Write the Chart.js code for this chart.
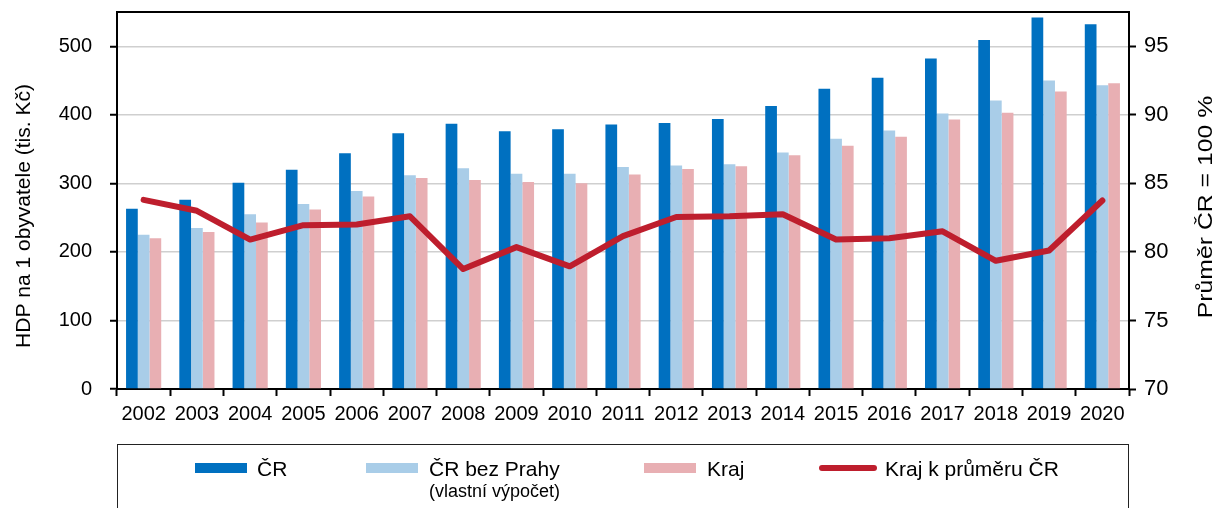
<!DOCTYPE html>
<html><head><meta charset="utf-8">
<script src="https://cdn.jsdelivr.net/npm/chart.js@4"></script>
<style>
html,body{margin:0;padding:0;background:#fff;}
#wrap{position:relative;width:1216px;height:508px;overflow:hidden;font-family:'Liberation Sans',Arial,sans-serif;color:#000;}
#c{position:absolute;left:0;top:0;}
.lg{position:absolute;left:117px;top:444px;width:1012px;height:90px;border:1.5px solid #222;box-sizing:border-box;}
.sw{position:absolute;}
.tx{position:absolute;font-size:21px;line-height:21px;white-space:nowrap;}
.sub{position:absolute;font-size:18px;line-height:18px;white-space:nowrap;}
</style></head>
<body>
<div id="wrap">
<canvas id="c" width="1216" height="508"></canvas>
<div class="lg"></div>
<div class="sw" style="left:195px;top:463px;width:52px;height:10px;background:#0070C0"></div>
<div class="tx" style="left:257px;top:458px">ČR</div>
<div class="sw" style="left:366px;top:463px;width:52px;height:10px;background:#A9CDE8"></div>
<div class="tx" style="left:429px;top:458px">ČR bez Prahy</div>
<div class="sub" style="left:429px;top:482px">(vlastní výpočet)</div>
<div class="sw" style="left:644px;top:463px;width:52px;height:10px;background:#E8AFB3"></div>
<div class="tx" style="left:707px;top:458px">Kraj</div>
<div class="sw" style="left:819px;top:465px;width:58px;height:6px;border-radius:3px;background:#BE1E2D"></div>
<div class="tx" style="left:885px;top:458px">Kraj k průměru ČR</div>
</div>
<script>
const years = ['2002','2003','2004','2005','2006','2007','2008','2009','2010','2011','2012','2013','2014','2015','2016','2017','2018','2019','2020'];
const cr = [263,276,301,320,344,373,387,376,379,386,388,394,413,438,454,482,509,542,532];
const crBezPrahy = [225,235,255,270,289,312,322,314,314,324,326,328,345,365,377,402,421,450,443];
const kraj = [220,229,243,262,281,308,305,302,300,313,321,325,341,355,368,393,403,434,446];
const krajKPrumeru = [83.8,83.0,80.9,81.95,82.0,82.6,78.75,80.35,78.95,81.15,82.55,82.6,82.75,80.9,81.0,81.5,79.35,80.1,83.75];
const leftTicks = [0,100,200,300,400,500];
const rightTicks = [70,75,80,85,90,95];
const leftTitle = 'HDP na 1 obyvatele (tis. Kč)';
const rightTitle = 'Průměr ČR = 100 %';

const FAM = "'Liberation Sans', Arial, sans-serif";

const framePlugin = {
  id: 'frame',
  afterDraw(chart) {
    const {ctx, chartArea: a} = chart;
    ctx.save();
    ctx.strokeStyle = '#000';
    ctx.lineWidth = 2;
    ctx.beginPath();
    ctx.moveTo(a.left - 1, a.top);
    ctx.lineTo(a.right + 1, a.top);
    ctx.stroke();
    ctx.fillStyle = '#000';
    ctx.font = '21px ' + FAM;
    ctx.textAlign = 'center';
    ctx.textBaseline = 'middle';
    ctx.save();
    ctx.translate(24, 216);
    ctx.rotate(-Math.PI / 2);
    ctx.fillText(leftTitle, 0, 0);
    ctx.restore();
    ctx.save();
    ctx.translate(1206, 207);
    ctx.rotate(-Math.PI / 2);
    ctx.scale(1.18, 1);
    ctx.fillText(rightTitle, 0, 0);
    ctx.restore();
    ctx.restore();
  }
};

function noPad(s) { s.paddingTop = 0; s.paddingBottom = 0; s.paddingLeft = 0; s.paddingRight = 0; }

new Chart(document.getElementById('c'), {
  data: {
    labels: years,
    datasets: [
      {type:'bar', label:'ČR', data: cr, backgroundColor:'#0070C0', yAxisID:'y', order:2, categoryPercentage:0.66, barPercentage:1},
      {type:'bar', label:'ČR bez Prahy (vlastní výpočet)', data: crBezPrahy, backgroundColor:'#A9CDE8', yAxisID:'y', order:2, categoryPercentage:0.66, barPercentage:1},
      {type:'bar', label:'Kraj', data: kraj, backgroundColor:'#E8AFB3', yAxisID:'y', order:2, categoryPercentage:0.66, barPercentage:1},
      {type:'line', label:'Kraj k průměru ČR', data: krajKPrumeru, yAxisID:'y1', order:1, borderColor:'#BE1E2D', borderWidth:6, pointRadius:0, tension:0, borderCapStyle:'round', borderJoinStyle:'round', fill:false}
    ]
  },
  options: {
    responsive: false,
    devicePixelRatio: 1,
    animation: false,
    layout: {padding: {top: 12, left: 0, right: 0, bottom: 0}},
    plugins: {legend: {display: false}, tooltip: {enabled: false}},
    scales: {
      x: {
        offset: true,
        grid: {display: true, offset: true, drawOnChartArea: false, drawTicks: true, tickLength: 7, tickColor: '#000', tickWidth: 2},
        border: {display: true, color: '#000', width: 2},
        ticks: {font: {size: 20, family: FAM}, color: '#000', padding: 6, maxRotation: 0, autoSkip: false},
        afterFit(s) { s.height = 119; noPad(s); }
      },
      y: {
        position: 'left', min: 0, max: 550,
        afterBuildTicks(s) { s.ticks = leftTicks.map(v => ({value: v})); },
        grid: {color: '#CFCFCF', lineWidth: 1.5, tickColor: '#000', tickLength: 7, tickWidth: 2},
        border: {display: true, color: '#000', width: 2},
        ticks: {font: {size: 20, family: FAM}, color: '#000', padding: 18},
        afterFit(s) { s.width = 117; noPad(s); }
      },
      y1: {
        position: 'right', min: 70, max: 97.5,
        afterBuildTicks(s) { s.ticks = rightTicks.map(v => ({value: v})); },
        grid: {drawOnChartArea: false, tickColor: '#000', tickLength: 7, tickWidth: 2},
        border: {display: true, color: '#000', width: 2},
        ticks: {font: {size: 22, family: FAM}, color: '#000', padding: 8},
        afterFit(s) { s.width = 87; noPad(s); }
      }
    }
  },
  plugins: [framePlugin]
});
</script>
</body></html>
